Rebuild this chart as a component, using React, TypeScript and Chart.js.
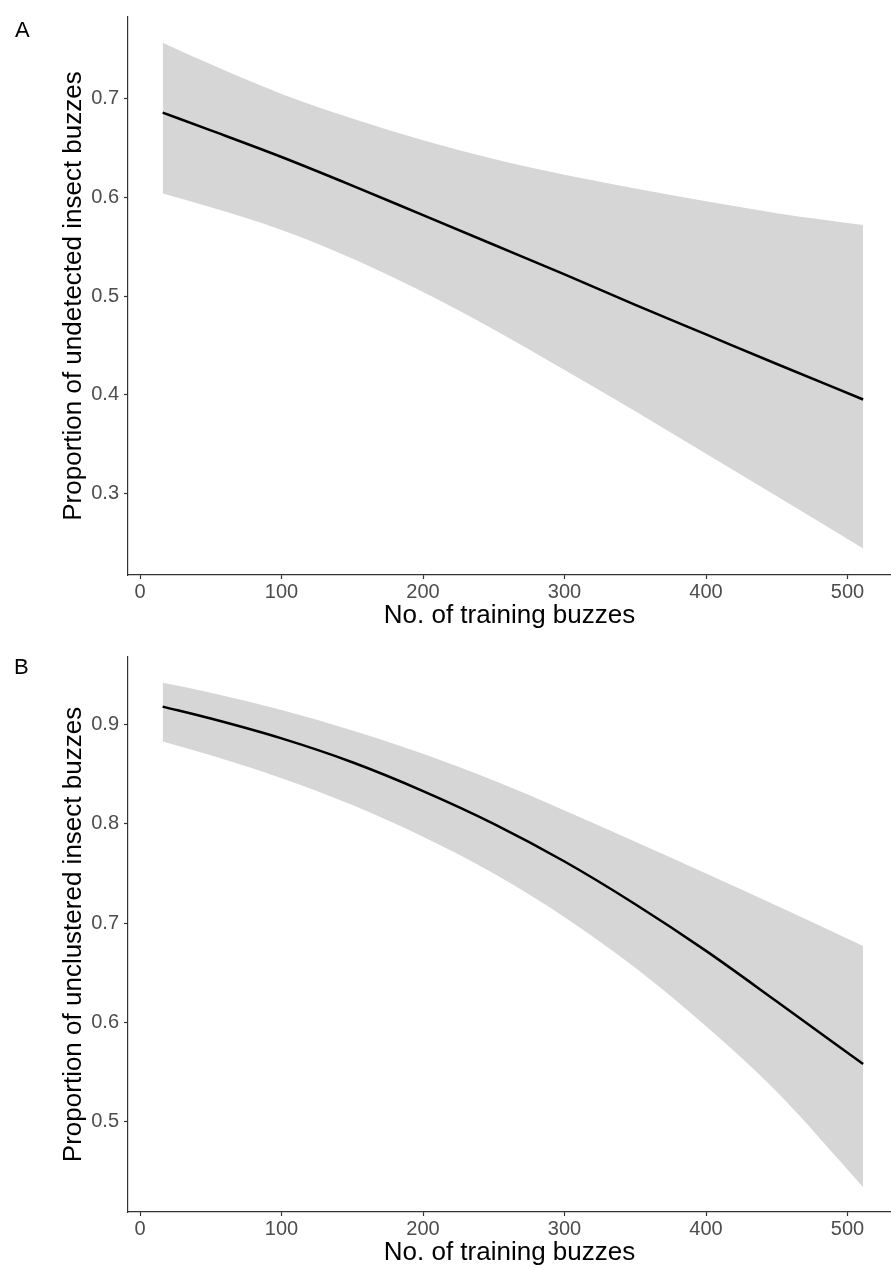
import React, { useEffect, useRef } from "react";
import { Chart, registerables } from "chart.js";

Chart.register(...registerables);

// ---- data ----
const trainingBuzzes = [16, 50, 100, 150, 200, 250, 300, 350, 400, 450, 511];

// Panel A: proportion of undetected insect buzzes
const undetectedFit = [0.686, 0.668, 0.641, 0.612, 0.582, 0.552, 0.522, 0.491, 0.461, 0.431, 0.395];
const undetectedUpper = [0.757, 0.735, 0.705, 0.680, 0.658, 0.639, 0.623, 0.609, 0.596, 0.584, 0.572];
const undetectedLower = [0.604, 0.590, 0.567, 0.538, 0.504, 0.466, 0.425, 0.383, 0.340, 0.297, 0.244];

// Panel B: proportion of unclustered insect buzzes
const unclusteredFit = [0.918, 0.906, 0.886, 0.862, 0.833, 0.800, 0.762, 0.719, 0.672, 0.621, 0.558];
const unclusteredUpper = [0.942, 0.932, 0.9145, 0.894, 0.8705, 0.8435, 0.8135, 0.782, 0.750, 0.7175, 0.677];
const unclusteredLower = [0.883, 0.869, 0.846, 0.819, 0.787, 0.750, 0.706, 0.655, 0.596, 0.530, 0.434];

const xTickValues = [0, 100, 200, 300, 400, 500];
const yTicksA = [0.3, 0.4, 0.5, 0.6, 0.7];
const yTicksB = [0.5, 0.6, 0.7, 0.8, 0.9];

const xTitle = "No. of training buzzes";
const yTitleA = "Proportion of undetected insect buzzes";
const yTitleB = "Proportion of unclustered insect buzzes";

const FONT = '"Liberation Sans", Arial, Helvetica, sans-serif';
const WIDTH = 891;

type PanelProps = {
  top: number;
  height: number;
  padTop: number;
  areaBottom: number;
  xTitlePad: number;
  yMin: number;
  yMax: number;
  yTicks: number[];
  yTitle: string;
  fit: number[];
  upper: number[];
  lower: number[];
};

function Panel(p: PanelProps) {
  const ref = useRef<HTMLCanvasElement>(null);
  useEffect(() => {
    if (!ref.current) return;
    const pts = (arr: number[]) => trainingBuzzes.map((x, i) => ({ x, y: arr[i] }));
    const chart = new Chart(ref.current, {
      type: "line",
      data: {
        datasets: [
          {
            label: "fit",
            data: pts(p.fit),
            borderColor: "#000000",
            borderWidth: 2.5,
            pointRadius: 0,
            fill: false,
            cubicInterpolationMode: "monotone",
          },
          {
            label: "upper",
            data: pts(p.upper),
            borderColor: "rgba(0,0,0,0)",
            borderWidth: 1,
            backgroundColor: "#d6d6d6",
            pointRadius: 0,
            fill: 2,
            cubicInterpolationMode: "monotone",
          },
          {
            label: "lower",
            data: pts(p.lower),
            borderColor: "rgba(0,0,0,0)",
            borderWidth: 1,
            pointRadius: 0,
            fill: false,
            cubicInterpolationMode: "monotone",
          },
        ],
      },
      options: {
        responsive: false,
        animation: false,
        events: [],
        layout: { padding: { top: p.padTop, left: 0, right: 0, bottom: 0 } },
        plugins: { legend: { display: false }, tooltip: { enabled: false } },
        scales: {
          x: {
            type: "linear",
            min: -8.5,
            max: 530.7,
            afterBuildTicks: (s: any) => {
              s.ticks = xTickValues.map((v) => ({ value: v }));
            },
            afterFit: (s: any) => {
              s.height = p.height - p.areaBottom;
            },
            grid: {
              drawOnChartArea: false,
              drawTicks: true,
              tickLength: 4,
              tickColor: "#333333",
              tickWidth: 1.2,
            },
            border: { display: true, color: "#333333", width: 1.2 },
            ticks: {
              color: "#4d4d4d",
              font: { family: FONT, size: 20 },
              padding: 1,
              maxRotation: 0,
              autoSkip: false,
              callback: (v: any) => String(v),
            },
            title: {
              display: true,
              text: xTitle,
              color: "#000000",
              font: { family: FONT, size: 26 },
              padding: { top: 0, bottom: p.xTitlePad },
            },
          },
          y: {
            type: "linear",
            min: p.yMin,
            max: p.yMax,
            afterBuildTicks: (s: any) => {
              s.ticks = p.yTicks.map((v) => ({ value: v }));
            },
            afterFit: (s: any) => {
              s.width = 128;
            },
            grid: {
              drawOnChartArea: false,
              drawTicks: true,
              tickLength: 4,
              tickColor: "#333333",
              tickWidth: 1.2,
            },
            border: { display: true, color: "#333333", width: 1.2 },
            ticks: {
              color: "#4d4d4d",
              font: { family: FONT, size: 20 },
              padding: 5,
              autoSkip: false,
              callback: (v: any) => Number(v).toFixed(1),
            },
            title: {
              display: true,
              text: p.yTitle,
              color: "#000000",
              font: { family: FONT, size: 26 },
              padding: { top: 58, bottom: 0 },
            },
          },
        },
      },
    } as any);
    return () => chart.destroy();
  }, []);
  return (
    <canvas
      ref={ref}
      width={WIDTH}
      height={p.height}
      style={{ position: "absolute", left: 0, top: p.top, width: WIDTH, height: p.height, display: "block" }}
    />
  );
}

const letterStyle: React.CSSProperties = {
  position: "absolute",
  fontFamily: FONT,
  fontSize: 22,
  lineHeight: "22px",
  color: "#000",
};

export default function App() {
  return (
    <div style={{ position: "absolute", left: 0, top: 0, width: WIDTH, height: 1270, background: "#fff", overflow: "hidden" }}>
      <Panel
        top={0}
        height={640}
        padTop={9}
        areaBottom={575}
        xTitlePad={9}
        yMin={0.217}
        yMax={0.783}
        yTicks={yTicksA}
        yTitle={yTitleA}
        fit={undetectedFit}
        upper={undetectedUpper}
        lower={undetectedLower}
      />
      <Panel
        top={640}
        height={630}
        padTop={6}
        areaBottom={572}
        xTitlePad={2}
        yMin={0.409}
        yMax={0.968}
        yTicks={yTicksB}
        yTitle={yTitleB}
        fit={unclusteredFit}
        upper={unclusteredUpper}
        lower={unclusteredLower}
      />
      <div style={{ ...letterStyle, left: 15, top: 19 }}>A</div>
      <div style={{ ...letterStyle, left: 14, top: 656 }}>B</div>
    </div>
  );
}
